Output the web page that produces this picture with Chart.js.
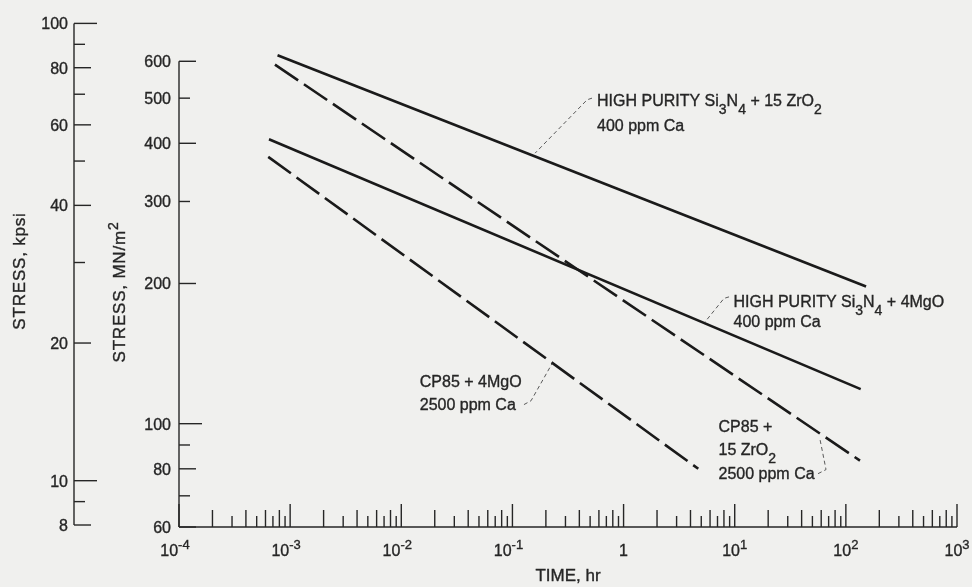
<!DOCTYPE html>
<html>
<head>
<meta charset="utf-8">
<title>Stress rupture, Si3N4</title>
<script src="https://cdn.jsdelivr.net/npm/chart.js@4.4.0/dist/chart.umd.min.js"></script>
<style>
  html, body { margin: 0; padding: 0; background: #f0f0ee; }
  #wrap { width: 972px; height: 587px; }
</style>
</head>
<body>
<div id="wrap"><canvas id="stressChart" width="972" height="587"></canvas></div>
<script>
    // Each curve is a straight line on log-log paper, so two end points each
    // time in hr, stress in MN/m^2
    const zrHighTime = [7.7e-4, 152];
    const zrHighStress = [618, 197];
    const zrCp85Time = [7.3e-4, 134];
    const zrCp85Stress = [590, 83.3];
    const mgHighTime = [6.45e-4, 136];
    const mgHighStress = [408, 118.6];
    const mgCp85Time = [6.35e-4, 4.7];
    const mgCp85Stress = [374, 80];

    // Axis ticks
    const timeDecades = [-4, -3, -2, -1, 0, 1, 2, 3];
    const mpaLabels = [60, 80, 100, 200, 300, 400, 500, 600];
    const mpaMinor = [70, 90];
    const kpsiLabels = [8, 10, 20, 40, 60, 80, 100];
    const kpsiMinor = [9, 30, 50, 70, 90];

    const FONT = '"Liberation Sans", Arial, sans-serif';
    const INK = '#262626';
    const LINE = '#1a1a1a';

    const seriesDefs = [
        { label: 'HIGH PURITY Si3N4 + 15 ZrO2, 400 ppm Ca', t: zrHighTime, s: zrHighStress, dash: [] },
        { label: 'CP85 + 15 ZrO2, 2500 ppm Ca', t: zrCp85Time, s: zrCp85Stress, dash: [28, 7] },
        { label: 'HIGH PURITY Si3N4 + 4MgO, 400 ppm Ca', t: mgHighTime, s: mgHighStress, dash: [] },
        { label: 'CP85 + 4MgO, 2500 ppm Ca', t: mgCp85Time, s: mgCp85Stress, dash: [28, 7] }
    ];

    // Curve labels, anchored in data units (time, MN/m^2); _n = subscript
    const notes = [
        { text: ['HIGH PURITY Si_3N_4 + 15 ZrO_2', '400 ppm Ca'], at: [0.577, 480], lead: 24.5,
          leader: [[0.52, 500], [0.47, 496], [0.16, 381]] },
        { text: ['HIGH PURITY Si_3N_4 + 4MgO', '400 ppm Ca'], at: [9.75, 178.4], lead: 20,
          leader: [[8.89, 187.2], [8.01, 185.8], [5.41, 165.4]] },
        { text: ['CP85 + 4MgO', '2500 ppm Ca'], at: [0.01466, 119.9], lead: 22.7,
          leader: [[0.127, 109.9], [0.147, 112], [0.227, 134.5]] },
        { text: ['CP85 +', '15 ZrO_2', '2500 ppm Ca'], at: [7.15, 96.2], lead: 23.8,
          leader: [[56.2, 78.1], [66.3, 79.7], [58.6, 92.4]] }
    ];

    // "_3" -> subscript, "^-4" -> superscript
    function parseRich(str, size) {
        const parts = [];
        str.split(/([_^]-?\d)/).forEach(s => {
            if (!s) return;
            if (s[0] === '_') parts.push({ t: s.slice(1), size: Math.round(size * 0.88), dy: Math.round(size * 0.5) });
            else if (s[0] === '^') parts.push({ t: s.slice(1), size: Math.round(size * 0.8), dy: -Math.round(size * 0.42) });
            else parts.push({ t: s, size: size, dy: 0 });
        });
        return parts;
    }

    function drawRich(ctx, str, x, y, size, align) {
        const parts = parseRich(str, size);
        let width = 0;
        parts.forEach(p => {
            ctx.font = p.size + 'px ' + FONT;
            p.w = ctx.measureText(p.t).width;
            width += p.w;
        });
        let cx = x;
        if (align === 'center') cx -= width / 2;
        if (align === 'right') cx -= width;
        ctx.textAlign = 'left';
        ctx.textBaseline = 'alphabetic';
        ctx.save();
        ctx.setLineDash([]);
        ctx.strokeStyle = ctx.fillStyle;
        ctx.lineWidth = 0.35;
        parts.forEach(p => {
            ctx.font = p.size + 'px ' + FONT;
            ctx.fillText(p.t, cx, y + p.dy);
            ctx.strokeText(p.t, cx, y + p.dy); // scanned lettering is a bit heavier
            cx += p.w;
        });
        ctx.restore();
    }

    function drawRotated(ctx, str, cx, cy, size) {
        ctx.save();
        ctx.translate(cx, cy);
        ctx.rotate(-Math.PI / 2);
        ctx.letterSpacing = '0.8px';
        drawRich(ctx, str, 0, Math.round(size * 0.36), size, 'center');
        ctx.restore();
    }

    function seg(ctx, x1, y1, x2, y2) {
        ctx.beginPath();
        ctx.moveTo(x1, y1);
        ctx.lineTo(x2, y2);
        ctx.stroke();
    }

    // decades long, even multiples medium, odd ones short
    function tickLen(v) {
        const e = Math.floor(Math.log10(v) + 1e-9);
        const m = Math.round(v / Math.pow(10, e));
        if (m === 1) return 23;
        return m % 2 === 0 ? 17 : 11;
    }

    const paperBg = {
        id: 'paperBg',
        beforeDraw(chart) {
            const ctx = chart.ctx;
            ctx.save();
            ctx.fillStyle = '#f0f0ee';
            ctx.fillRect(0, 0, chart.width, chart.height);
            ctx.restore();
        }
    };

    const axesPlugin = {
        id: 'paperAxes',
        afterDatasetsDraw(chart) {
            const { ctx, chartArea: area, scales } = chart;
            const xs = scales.x, ys = scales.y, ks = scales.kpsi;
            ctx.save();
            ctx.strokeStyle = INK;
            ctx.fillStyle = INK;
            ctx.lineWidth = 1.4;
            ctx.setLineDash([]);

            // time axis, ticks pointing up
            const base = area.bottom;
            const last = timeDecades.length - 1;
            seg(ctx, xs.getPixelForValue(Math.pow(10, timeDecades[0])), base,
                xs.getPixelForValue(Math.pow(10, timeDecades[last])), base);
            timeDecades.forEach((d, i) => {
                const mults = i < last ? [1, 2, 3, 4, 5, 6, 7, 8, 9] : [1];
                mults.forEach(m => {
                    const v = m * Math.pow(10, d);
                    const px = xs.getPixelForValue(v);
                    seg(ctx, px, base, px, base - tickLen(v));
                });
                const label = d === 0 ? '1' : '10^' + d;
                drawRich(ctx, label, xs.getPixelForValue(Math.pow(10, d)) - (d < 0 ? 4 : 0), base + 29, 16, 'center');
            });
            drawRich(ctx, 'TIME, hr', (area.left + area.right) / 2, base + 54, 17, 'center');

            // MN/m^2 axis
            const ax = area.left;
            seg(ctx, ax, ys.getPixelForValue(Math.max(...mpaLabels)), ax, ys.getPixelForValue(Math.min(...mpaLabels)));
            mpaLabels.concat(mpaMinor).forEach(v => {
                const py = ys.getPixelForValue(v);
                seg(ctx, ax, py, ax + tickLen(v), py);
            });
            mpaLabels.forEach(v => drawRich(ctx, String(v), ax - 8, ys.getPixelForValue(v) + 6, 16, 'right'));
            drawRotated(ctx, 'STRESS, MN/m^2', ax - 60, area.top + 269, 17);

            // kpsi axis
            const kx = ax - 105;
            seg(ctx, kx, ks.getPixelForValue(Math.max(...kpsiLabels)), kx, ks.getPixelForValue(Math.min(...kpsiLabels)));
            kpsiLabels.concat(kpsiMinor).forEach(v => {
                const py = ks.getPixelForValue(v);
                seg(ctx, kx, py, kx + tickLen(v), py);
            });
            kpsiLabels.forEach(v => drawRich(ctx, String(v), kx - 6, ks.getPixelForValue(v) + 6, 16, 'right'));
            drawRotated(ctx, 'STRESS, kpsi', kx - 55, area.top + 248, 17);

            ctx.restore();
        }
    };

    const notesPlugin = {
        id: 'curveNotes',
        afterDraw(chart) {
            const { ctx, scales } = chart;
            const xs = scales.x, ys = scales.y;
            ctx.save();
            notes.forEach(n => {
                ctx.strokeStyle = '#5a5a5a';
                ctx.lineWidth = 1;
                ctx.setLineDash([4, 3]);
                ctx.beginPath();
                n.leader.forEach((p, i) => {
                    const px = xs.getPixelForValue(p[0]), py = ys.getPixelForValue(p[1]);
                    if (i === 0) ctx.moveTo(px, py); else ctx.lineTo(px, py);
                });
                ctx.stroke();

                ctx.fillStyle = INK;
                const x0 = xs.getPixelForValue(n.at[0]), y0 = ys.getPixelForValue(n.at[1]);
                n.text.forEach((line, i) => drawRich(ctx, line, x0, y0 + i * n.lead, 16, 'left'));
            });
            ctx.restore();
        }
    };

    document.addEventListener('DOMContentLoaded', function () {
        const ctx = document.getElementById('stressChart').getContext('2d');
        new Chart(ctx, {
            type: 'line',
            data: {
                datasets: seriesDefs.map(d => ({
                    label: d.label,
                    data: d.t.map((t, i) => ({ x: t, y: d.s[i] })),
                    borderColor: LINE,
                    borderWidth: 2.6,
                    borderDash: d.dash,
                    borderCapStyle: 'butt',
                    pointRadius: 0,
                    fill: false,
                    tension: 0
                }))
            },
            options: {
                responsive: false,
                animation: false,
                devicePixelRatio: 1,
                layout: { padding: { left: 179, right: 15, top: 23, bottom: 60 } },
                scales: {
                    x: { type: 'logarithmic', min: 1e-4, max: 1e3, display: false },
                    y: { type: 'logarithmic', min: 60, max: 725, display: false },
                    kpsi: { type: 'logarithmic', axis: 'y', min: 7.92, max: 100.2, display: false }
                },
                plugins: { legend: { display: false }, tooltip: { enabled: false } }
            },
            plugins: [paperBg, axesPlugin, notesPlugin]
        });
    });
</script>
</body>
</html>
